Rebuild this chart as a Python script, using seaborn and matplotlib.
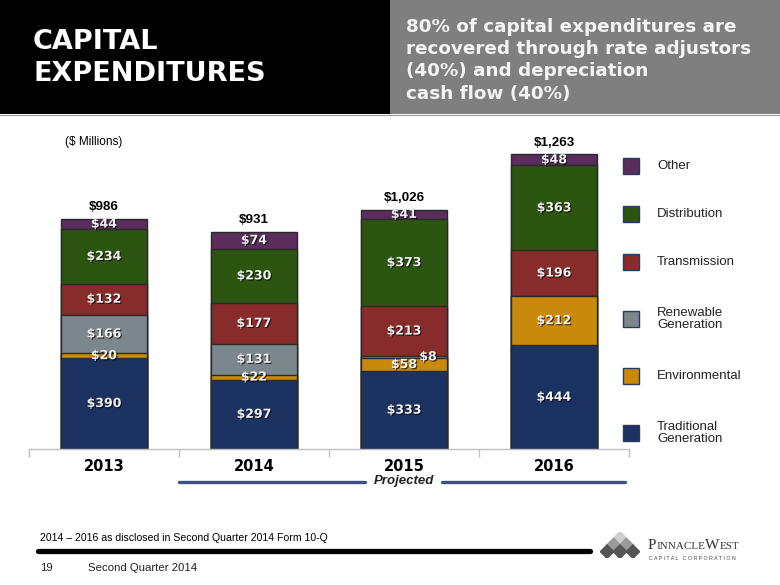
import matplotlib
matplotlib.use("Agg")
import matplotlib.pyplot as plt
import matplotlib.patheffects as pe
import matplotlib.transforms as mtrans
from matplotlib.patches import Rectangle
from matplotlib.lines import Line2D
import numpy as np
import seaborn as sns

# values in $ millions
years = ["2013", "2014", "2015", "2016"]
categories = ["Traditional\nGeneration", "Environmental", "Renewable\nGeneration",
              "Transmission", "Distribution", "Other"]
traditional = [390, 297, 333, 444]
environmental = [20, 22, 58, 212]
renewable = [166, 131, 8, 0]
transmission = [132, 177, 213, 196]
distribution = [234, 230, 373, 363]
other = [44, 74, 41, 48]
colors = ["#1c3361", "#c98a0c", "#7b878d", "#882b2b", "#2c5512", "#5a2d5d"]

series = [traditional, environmental, renewable, transmission, distribution, other]

sns.set_theme(style="white")
plt.rcParams["font.family"] = ["Liberation Sans", "DejaVu Sans"]

W, H = 780, 585
fig = plt.figure(figsize=(7.8, 5.85), dpi=100)


def fx(px):
    return px / W


def fy(py):
    return 1 - py / H


# header blocks
fig.patches.append(Rectangle((0, fy(114)), fx(390), 114 / H, transform=fig.transFigure,
                             facecolor="black", edgecolor="none", zorder=0))
fig.patches.append(Rectangle((fx(390), fy(114)), 1 - fx(390), 114 / H, transform=fig.transFigure,
                             facecolor="#7f7f7f", edgecolor="none", zorder=0))
fig.add_artist(Line2D([0, 1], [fy(114.5), fy(114.5)], transform=fig.transFigure,
                      color="#9a9a9a", lw=0.8))
fig.text(fx(33), fy(42), "CAPITAL", color="white", fontsize=19.5, fontweight="bold",
         family="DejaVu Sans", va="center", ha="left")
fig.text(fx(33), fy(74), "EXPENDITURES", color="white", fontsize=19.5, fontweight="bold",
         family="DejaVu Sans", va="center", ha="left")
fig.text(fx(406), fy(18),
         "80% of capital expenditures are\nrecovered through rate adjustors\n"
         "(40%) and depreciation\ncash flow (40%)",
         color="#f4f4f4", fontsize=13.2, fontweight="bold", family="DejaVu Sans",
         va="top", ha="left", linespacing=1.3)

# chart
ax = fig.add_axes([fx(29), 136 / H, 600 / W, 329 / H])
cum = np.cumsum(np.array(series), axis=0)
for i in reversed(range(len(series))):
    sns.barplot(x=years, y=cum[i], color=colors[i], saturation=1, width=0.57,
                edgecolor="#2a2a2a", linewidth=1.0, ax=ax)

shadow = [pe.withSimplePatchShadow(offset=(0.8, -0.8), shadow_rgbFace="black", alpha=0.7)]
for i in range(len(series)):
    base = cum[i] - np.array(series[i])
    for j, v in enumerate(series[i]):
        if v <= 0:
            continue
        dx = 0.16 if v < 15 else 0
        ax.text(j + dx, base[j] + v / 2, f"${v}", ha="center", va="center",
                color="#f2f2f2", fontsize=9, fontweight="bold", family="DejaVu Sans",
                path_effects=shadow)

totals = cum[-1]
for j, t in enumerate(totals):
    ax.annotate(f"${t:,}", (j, t), xytext=(0, 4), textcoords="offset points",
                ha="center", va="bottom", fontsize=9.6, fontweight="bold", color="black")

ax.set_xlim(-0.5, 3.5)
ax.set_ylim(0, 1410)
ax.set_yticks([])
ax.set_xlabel("")
ax.set_ylabel("")
for s in ["left", "top", "right"]:
    ax.spines[s].set_visible(False)
ax.spines["bottom"].set_color("#c0c0c0")
ax.spines["bottom"].set_linewidth(1)
ax.set_xticks(range(len(years)))
ax.set_xticklabels(years, fontsize=10.5, fontweight="bold", family="DejaVu Sans")
ax.set_xticks([-0.5, 0.5, 1.5, 2.5, 3.5], minor=True)
ax.tick_params(axis="x", which="major", length=0, pad=7, colors="black")
ax.tick_params(axis="x", which="minor", length=6, width=1, color="#c0c0c0", bottom=True)
ax.set_facecolor("none")

ax.text(0.108, 0.933, "($ Millions)", transform=ax.transAxes, fontsize=8.5,
        ha="center", va="center", color="black")

# projected bracket under the years
bt = mtrans.blended_transform_factory(ax.transData, fig.transFigure)
for x0, x1 in [(0.5, 1.74), (2.25, 3.47)]:
    ax.add_artist(Line2D([x0, x1], [fy(482), fy(482)], transform=bt, color="#3a5383",
                         lw=2.4, clip_on=False))
ax.text(2.0, fy(481), "Projected", transform=bt, ha="center", va="center",
        fontsize=9.5, style="italic", fontweight="bold", color="#222222", clip_on=False)

# legend, top entry first (rows are spaced like the slide)
legend_rows = [166, 214, 262, 319, 376, 433]
for row, i in zip(legend_rows, reversed(range(len(categories)))):
    fig.patches.append(Rectangle((fx(623), fy(row + 8)), 16 / W, 16 / H,
                                 transform=fig.transFigure, facecolor=colors[i],
                                 edgecolor="#2b3a55", linewidth=1))
    fig.text(fx(657), fy(row), categories[i], fontsize=9.5, va="center", ha="left",
             color="#222222", linespacing=1.1)

# footer
fig.text(fx(40), fy(538), "2014 \u2013 2016 as disclosed in Second Quarter 2014 Form 10-Q",
         fontsize=7.6, va="center", ha="left", color="black")
fig.add_artist(Line2D([fx(38), fx(590)], [fy(551), fy(551)], transform=fig.transFigure,
                      color="black", lw=3.8))
fig.text(fx(40), fy(568), "19", fontsize=8.2, va="center", ha="left", color="#222222")
fig.text(fx(88), fy(568), "Second Quarter 2014", fontsize=8.2, va="center", ha="left",
         color="#222222")

# company mark: small pyramid of diamonds
lax = fig.add_axes([fx(600), fy(558), fx(40), 26 / H])
lax.set_axis_off()
shades = ["#cfcfcf", "#9a9a9a", "#555555"]
for r in range(3):
    n = r + 1
    xs = np.arange(n) - (n - 1) / 2
    lax.scatter(xs, [-r] * n, marker="D", s=62, color=shades[r], edgecolor="none")
lax.set_xlim(-1.55, 1.55)
lax.set_ylim(-2.95, 0.95)

renderer = fig.canvas.get_renderer()
x = fx(648)
for part, size in [("P", 11), ("INNACLE", 8), ("W", 11), ("EST", 8)]:
    t = fig.text(x, fy(549), part, family="Liberation Serif", fontsize=size,
                 va="baseline", ha="left", color="#333333")
    bb = t.get_window_extent(renderer)
    x = bb.x1 / fig.bbox.width
fig.text(fx(649), fy(558), "C A P I T A L   C O R P O R A T I O N", fontsize=3.8,
         va="center", ha="left", color="#444444")

fig.savefig("out.png", dpi=100)
